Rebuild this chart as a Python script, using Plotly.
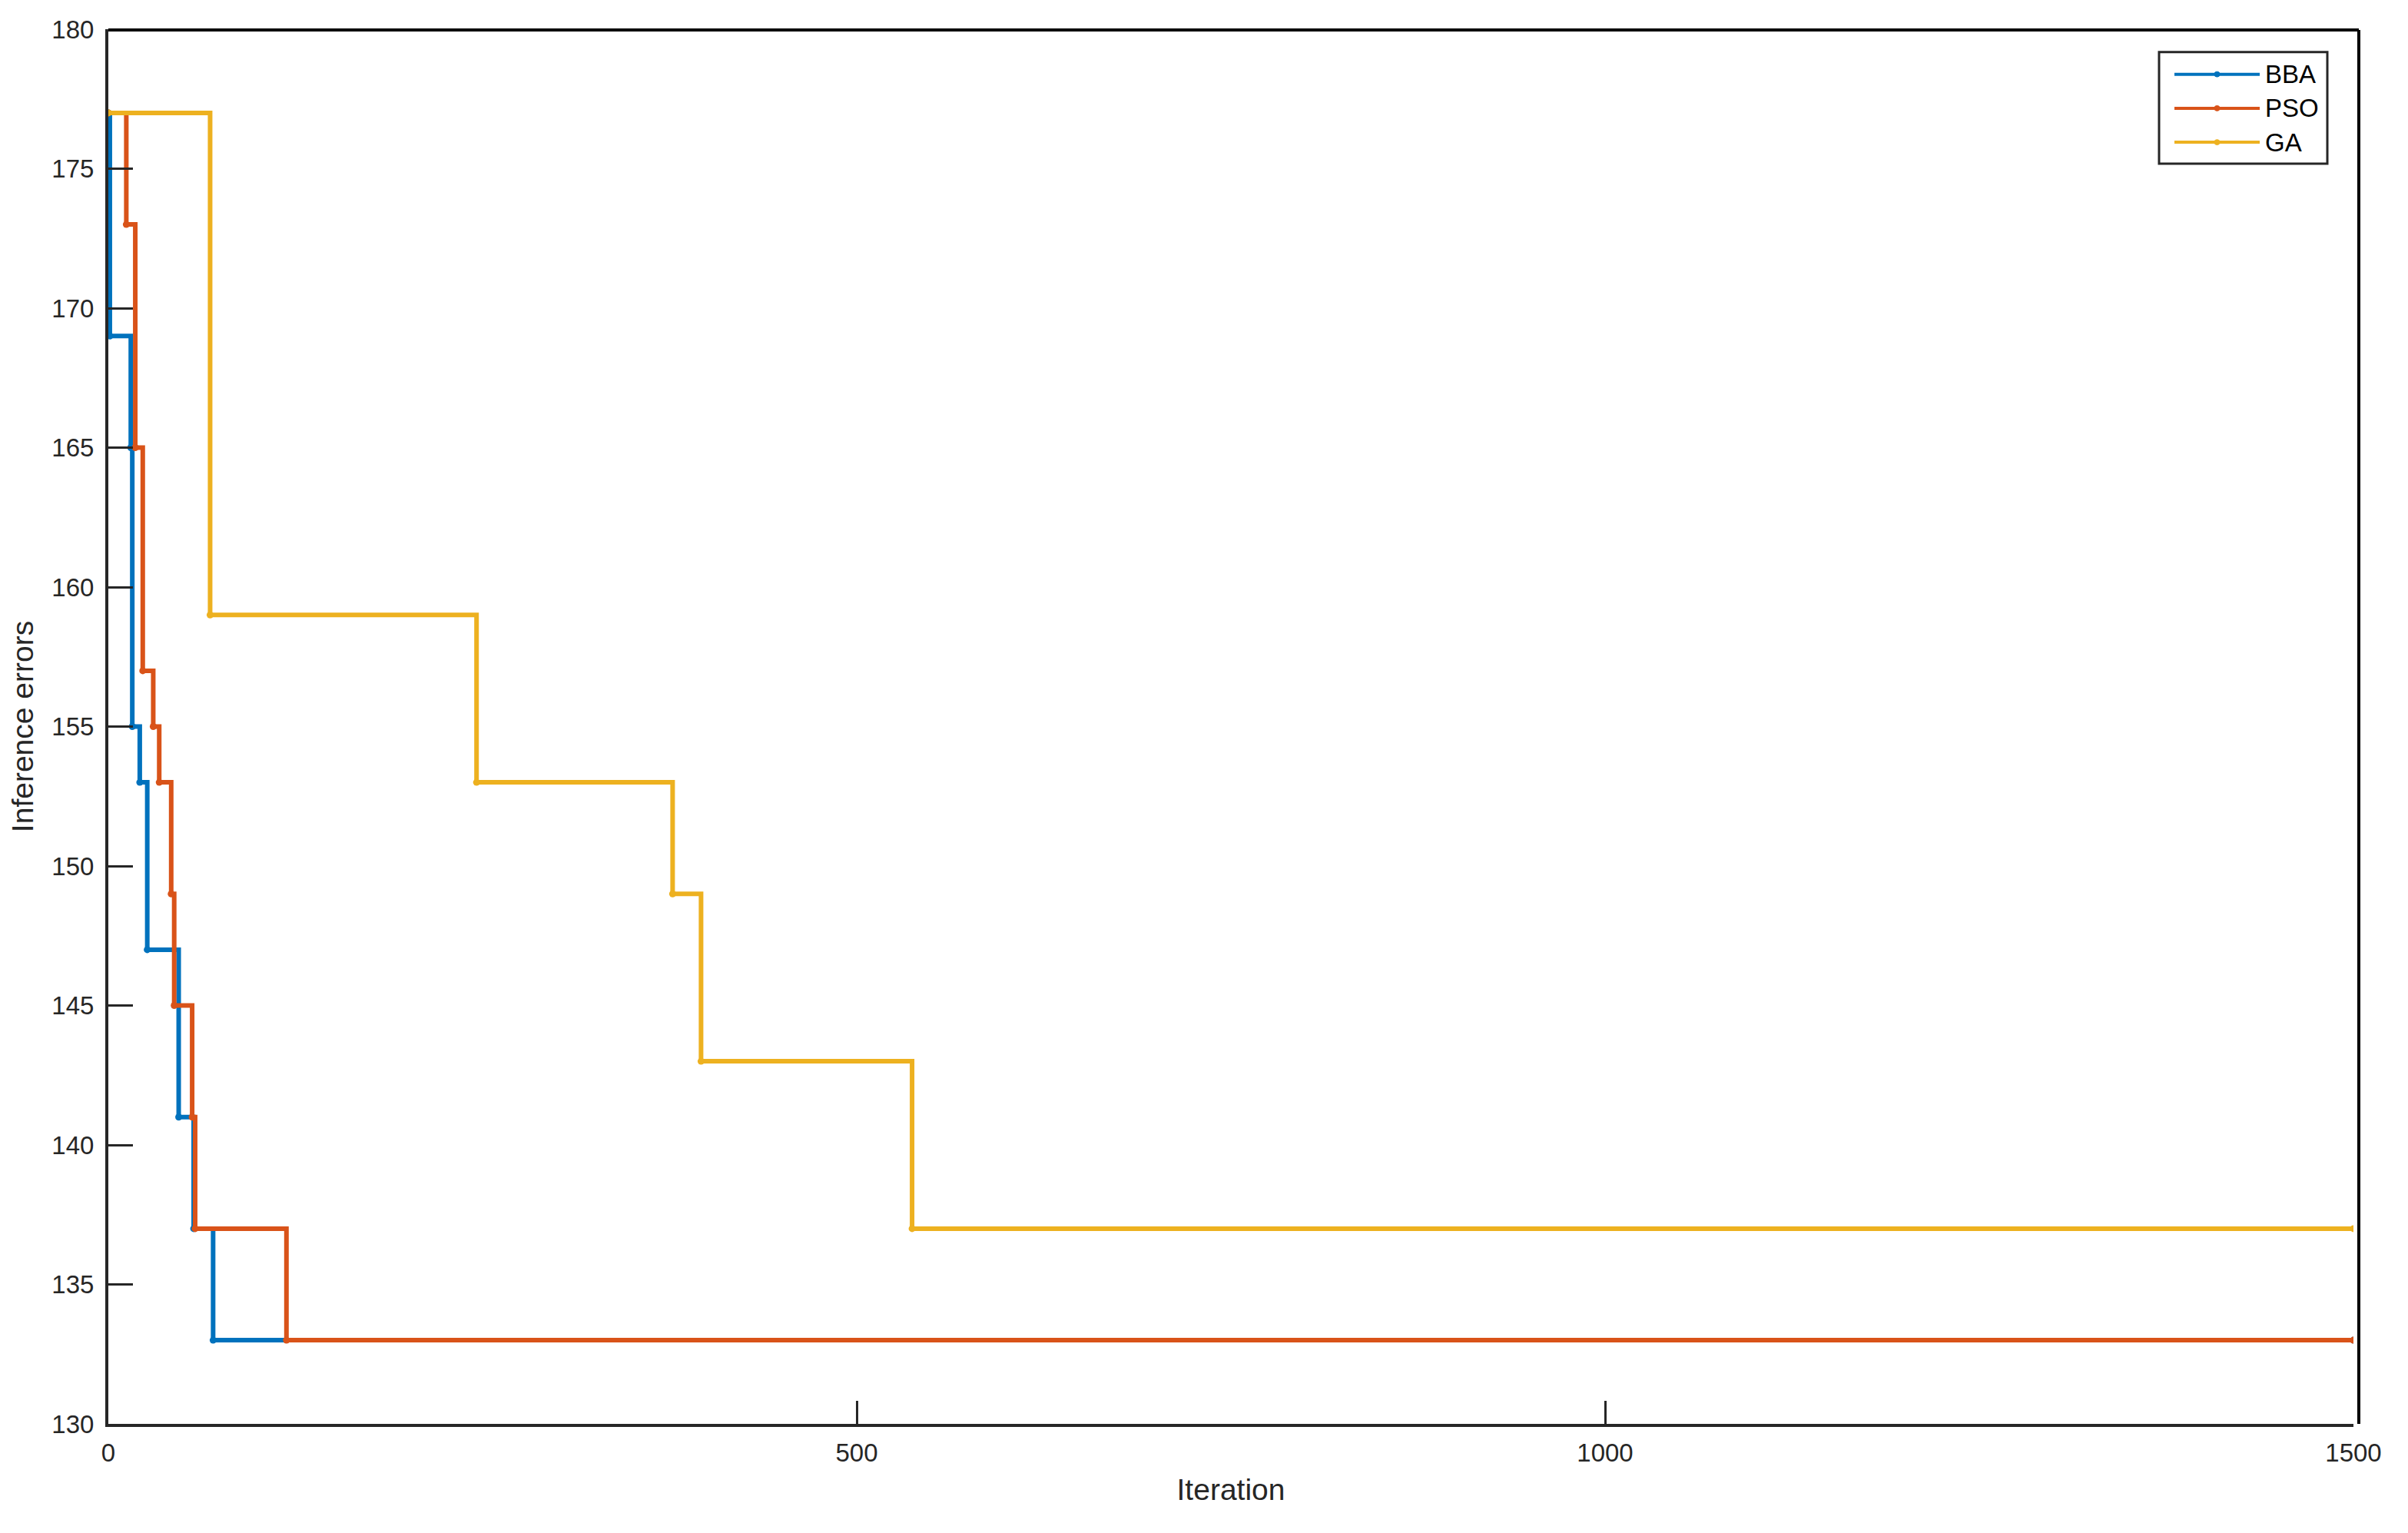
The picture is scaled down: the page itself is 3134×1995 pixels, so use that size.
'''
    Convergence curves of BBA, PSO and GA (inference errors per iteration).
'''

import plotly.graph_objects as go

# step breakpoints: iteration at which each value starts
bba_iter = [0, 1, 15, 16, 21, 26, 47, 57, 70, 1500]
bba_err = [177, 169, 165, 155, 153, 147, 141, 137, 133, 133]

pso_iter = [0, 12, 18, 23, 30, 34, 42, 44, 56, 58, 119, 1500]
pso_err = [177, 173, 165, 157, 155, 153, 149, 145, 141, 137, 133, 133]

ga_iter = [0, 68, 246, 377, 396, 537, 1500]
ga_err = [177, 159, 153, 149, 143, 137, 137]

names = ['BBA', 'PSO', 'GA']
colors = ['#0072BD', '#D95319', '#EDB120']
x_ticks = [0, 500, 1000, 1500]
y_ticks = [130, 135, 140, 145, 150, 155, 160, 165, 170, 175, 180]

# page has an 8px body margin, so work in page pixels and shift
OFF = 8
W, H = 3134 - 2 * OFF, 1995 - 2 * OFF
L, R, T, B = 141 - OFF, 3063 - OFF, 27 - OFF, 1853 - OFF
AX = '#262626'
FONT = 'Liberation Sans, Arial, sans-serif'


def px(x):
    return (x - OFF - L) / (R - L)


def py(y):
    return (B - (y - OFF)) / (B - T)


fig = go.Figure()
for xs, ys, name, col in zip([bba_iter, pso_iter, ga_iter],
                             [bba_err, pso_err, ga_err], names, colors):
    fig.add_trace(go.Scatter(
        x=xs, y=ys, name=name, mode='lines+markers',
        line=dict(color=col, width=6, shape='hv'),
        marker=dict(color=col, size=9),
        showlegend=False,
    ))

shapes = []
annotations = []

# outer frame lines (top and right) drawn in black
shapes.append(dict(type='line', xref='paper', yref='paper',
                   x0=px(141), x1=px(3070), y0=py(28), y1=py(28),
                   line=dict(color='black', width=4), opacity=1))
shapes.append(dict(type='line', xref='paper', yref='paper',
                   x0=px(3070), x1=px(3070), y0=py(28), y1=py(1853),
                   line=dict(color='black', width=4), opacity=1))

# hand-made legend to match the long line samples
shapes.append(dict(type='rect', xref='paper', yref='paper',
                   x0=px(2810), x1=px(3029), y0=py(57), y1=py(203),
                   line=dict(color=AX, width=3), fillcolor='white', opacity=1))
for i, (name, col) in enumerate(zip(names, colors)):
    yc = 86 + i * 44.5
    shapes.append(dict(type='line', xref='paper', yref='paper',
                       x0=px(2830), x1=px(2941), y0=py(yc), y1=py(yc),
                       line=dict(color=col, width=4), opacity=1))
    shapes.append(dict(type='circle', xref='paper', yref='paper',
                       x0=px(2882), x1=px(2889), y0=py(yc - 3.5),
                       y1=py(yc + 3.5),
                       line=dict(color=col, width=1), fillcolor=col,
                       opacity=1))
    annotations.append(dict(xref='paper', yref='paper', x=px(2946), y=py(yc),
                            text=name, showarrow=False, xanchor='left',
                            yanchor='middle',
                            font=dict(family=FONT, size=33, color='black')))

fig.update_layout(
    width=W, height=H,
    template='simple_white',
    paper_bgcolor='white', plot_bgcolor='white',
    margin=dict(l=L, r=W - R, t=T, b=H - B),
    font=dict(family=FONT, size=33, color=AX),
    shapes=shapes,
    annotations=annotations,
    showlegend=False,
)

fig.update_xaxes(
    range=[0, 1500], tickvals=x_ticks, ticks='inside', ticklen=30,
    tickwidth=3, tickcolor=AX, showline=True, linewidth=4, linecolor=AX,
    showgrid=False, zeroline=False, mirror=False, ticklabelstandoff=5,
    title=dict(text='Iteration', font=dict(size=39, color=AX), standoff=18),
)
fig.update_yaxes(
    range=[130, 180], tickvals=y_ticks, ticks='inside', ticklen=32,
    tickwidth=3, tickcolor=AX, showline=True, linewidth=4, linecolor=AX,
    showgrid=False, zeroline=False, mirror=False, ticklabelstandoff=8,
    title=dict(text='Inference errors', font=dict(size=39, color=AX), standoff=20),
)

fig.write_html('out.html')
